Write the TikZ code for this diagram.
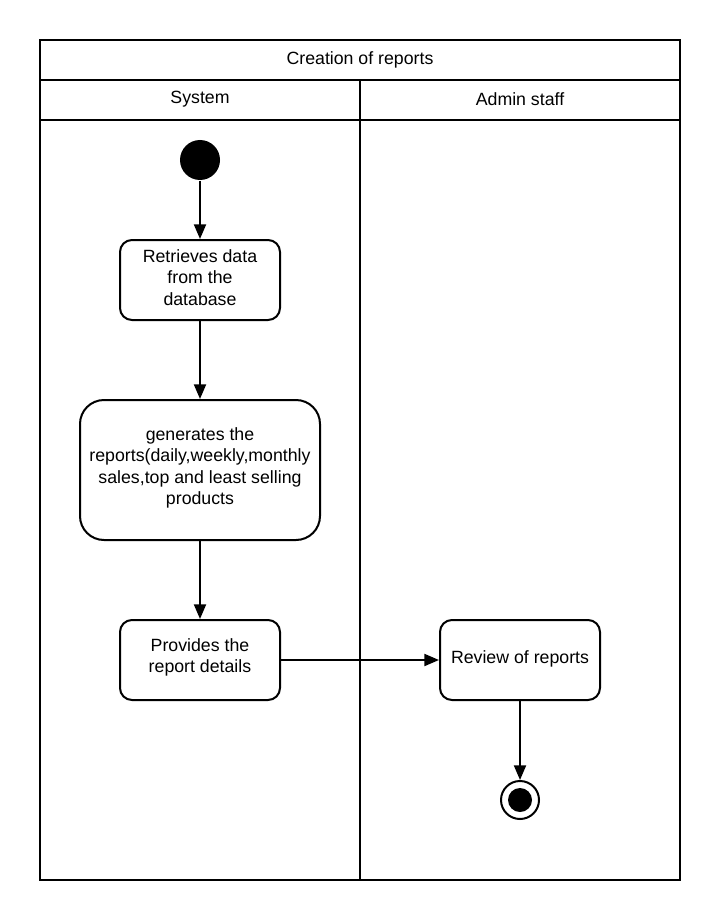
\documentclass[tikz,border=0pt]{standalone}
\usepackage{fontspec}
\setmainfont{Liberation Sans}
\usetikzlibrary{arrows.meta}
\begin{document}
\begin{tikzpicture}[x=0.75pt,y=-0.75pt,
  line width=1.5pt,
  lbl/.style={font=\fontsize{13.3}{16}\selectfont},
  action/.style={draw,rounded corners=9pt,inner sep=0pt},
  multi/.style={align=center,inner sep=0pt,font=\fontsize{13.3}{16}\selectfont},
  flow/.style={-{Triangle[length=11pt,width=9pt]}}]
\useasboundingbox (0,0) rectangle (720,920);
% swimlane frame
\draw (40,40) rectangle (680,880);
\draw (40,80) -- (680,80);
\draw (40,120) -- (680,120);
\draw (360,80) -- (360,880);
\node[lbl] (title) at (360,59.5) {Creation of reports};
\node[lbl] (lane1) at (200,99.5) {System};
\node[lbl] (lane2) at (520,99.5) {Admin staff};
% start and end
\node[circle,fill=black,minimum size=30pt,inner sep=0pt] (start) at (200,160) {};
\node[circle,draw,line width=1.5pt,minimum size=28.5pt,inner sep=0pt] (end) at (520,800) {};
\node[circle,fill=black,minimum size=18pt,inner sep=0pt] (endin) at (520,800) {};
% actions
\node[action,minimum width=120pt,minimum height=60pt] (a1) at (200,280) {};
\node[multi] (a1t) at (200,277.5) {Retrieves data\\from the\\database};
\node[action,rounded corners=18pt,minimum width=180pt,minimum height=105pt] (a2) at (200,470) {};
\node[multi] (a2t) at (200,468) {generates the\\reports(daily,weekly,monthly\\sales,top and least selling\\products};
\node[action,minimum width=120pt,minimum height=60pt] (a3) at (200,660) {};
\node[multi] (a3t) at (200,657.5) {Provides the\\report details};
\node[action,minimum width=120pt,minimum height=60pt] (a4) at (520,660) {};
\node[lbl] (a4t) at (520,659) {Review of reports};
% flows
\draw[flow] (start) -- (a1);
\draw[flow] (a1) -- (a2);
\draw[flow] (a2) -- (a3);
\draw[flow] (a3) -- (a4);
\draw[flow] (a4) -- (end);
\end{tikzpicture}
\end{document}
